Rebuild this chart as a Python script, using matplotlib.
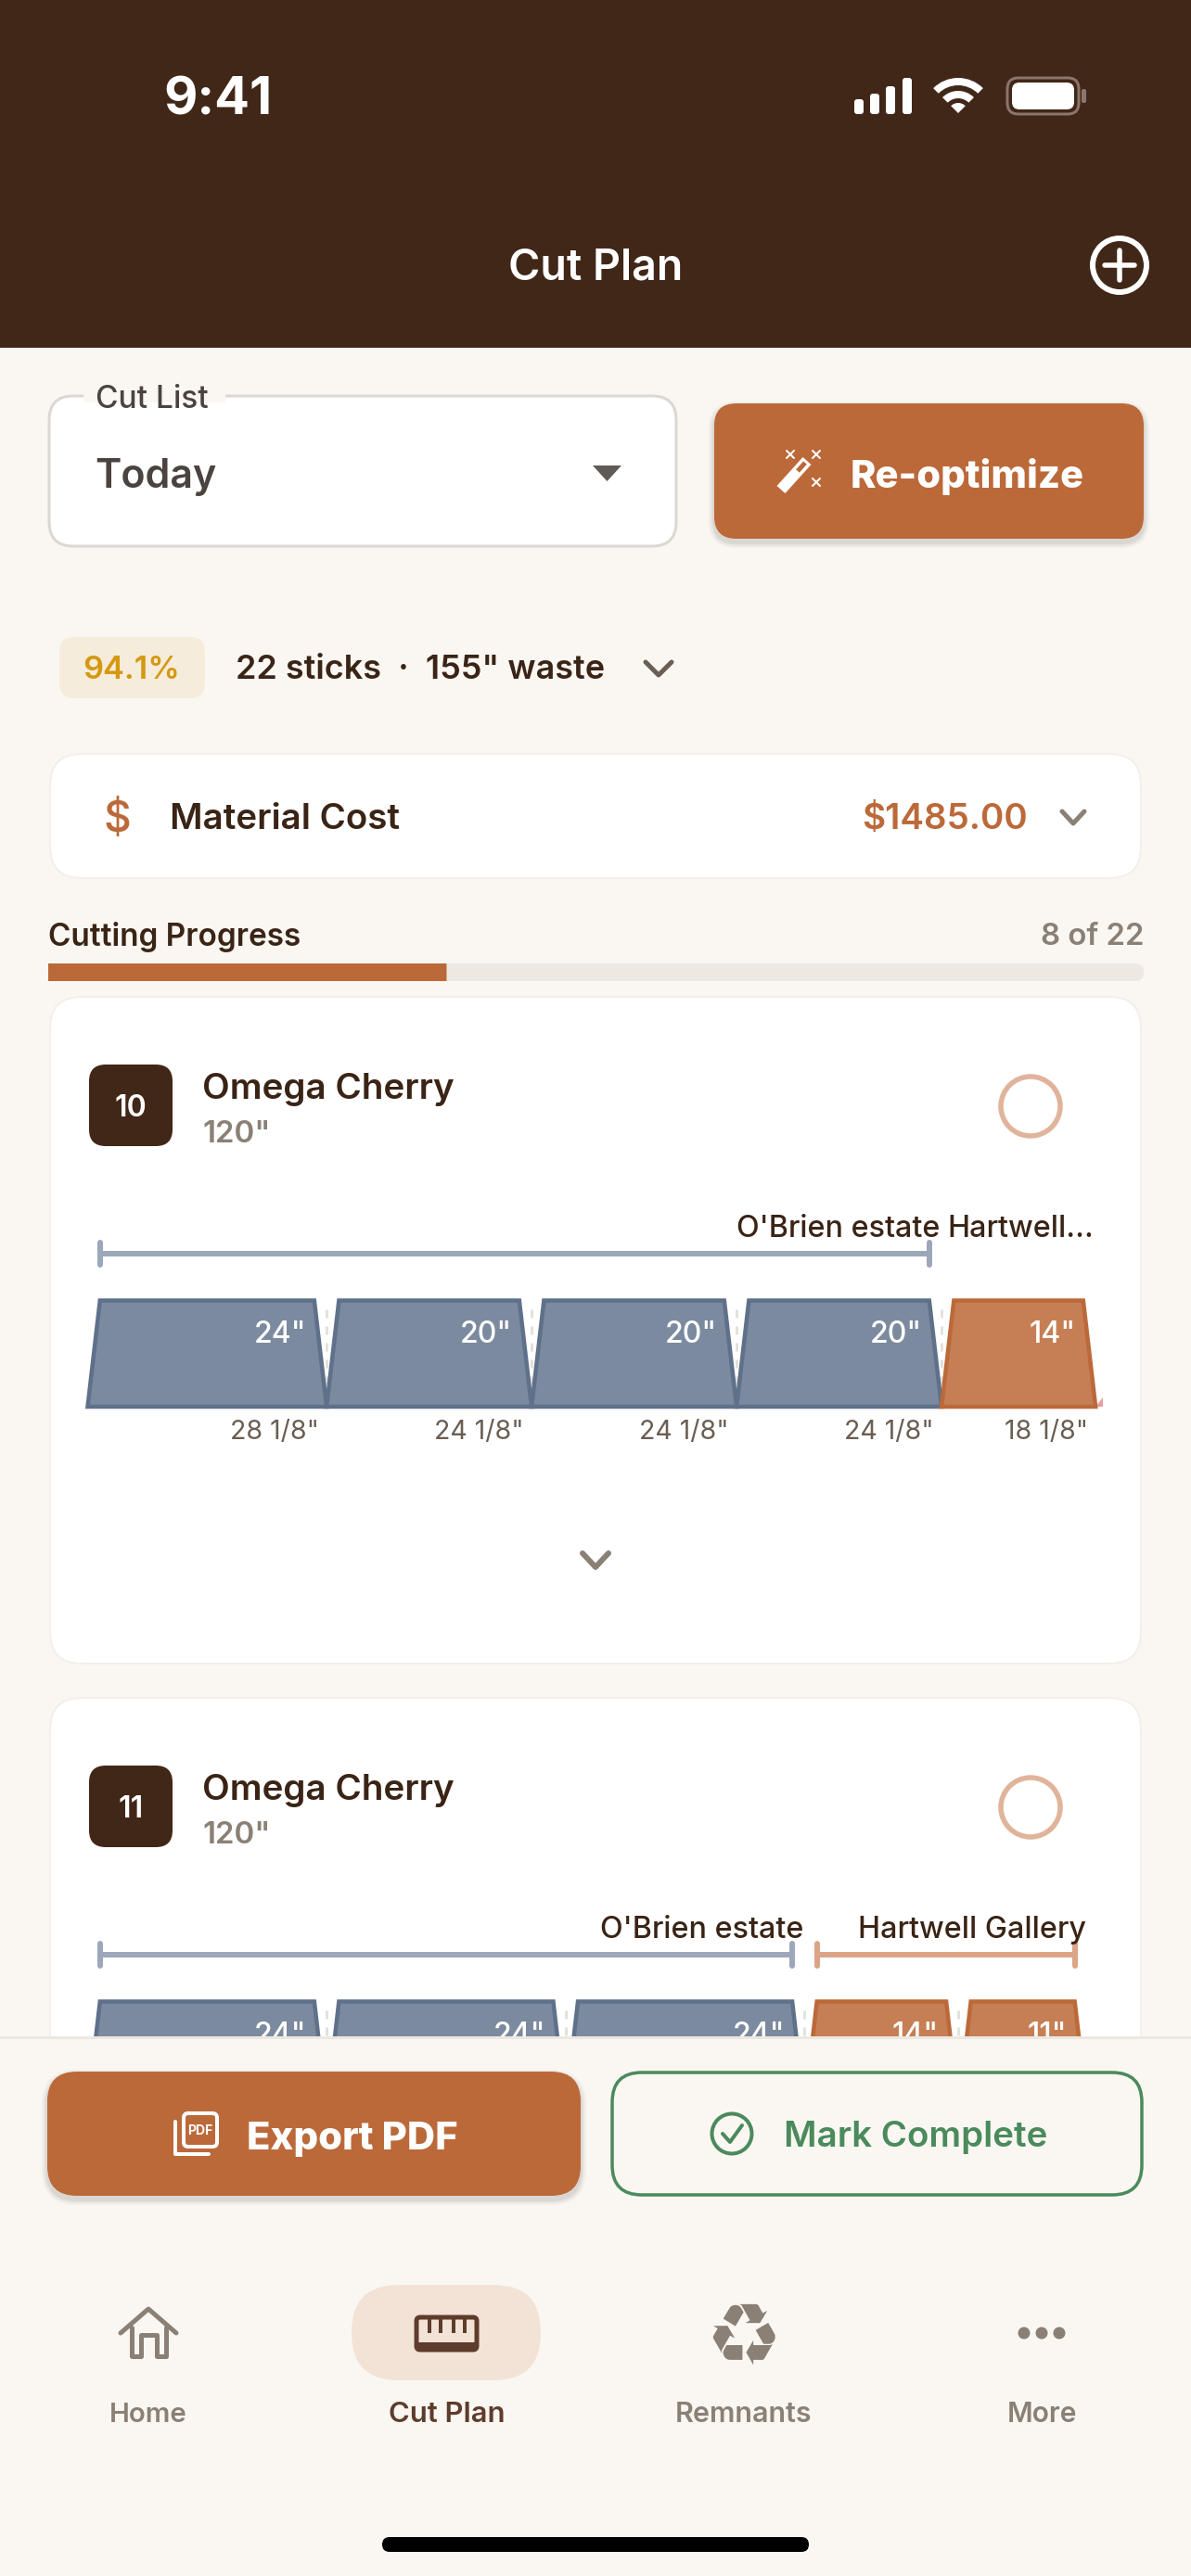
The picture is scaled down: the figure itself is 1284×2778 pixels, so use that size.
import matplotlib
matplotlib.use("Agg")
import matplotlib.pyplot as plt
from matplotlib.patches import FancyBboxPatch, Circle, Polygon, Wedge, Rectangle

plt.rcParams['font.family'] = ['Inter', 'DejaVu Sans']

# colours
BROWN = "#412718"
BG = "#faf7f2"
ORANGE = "#bc693a"
ORANGE_FILL = "#c67f54"
ORANGE_LINE = "#dba486"
SLATE = "#7b8a9e"
SLATE_EDGE = "#5f708a"
SLATE_LINE = "#9ca8ba"
GREEN = "#4a8a5c"
GREY = "#8a8075"
DARK = "#3a2416"

# stick data, the second stick's span labels are hidden behind the footer
stick_length = 120
stick_numbers = ["10", "11"]
stick_names = ["Omega Cherry", "Omega Cherry"]
stick_sizes = ['120"', '120"']
cuts = [[24, 20, 20, 20, 14], [24, 24, 24, 14, 11]]
spans = [[28.125, 24.125, 24.125, 24.125, 18.125], [28.125, 28.125, 28.125, 18.125, 15.125]]
span_labels = [['28 1/8"', '24 1/8"', '24 1/8"', '24 1/8"', '18 1/8"'], []]
group_names = [["O'Brien estate", "Hartwell..."], ["O'Brien estate", "Hartwell Gallery"]]
group_counts = [[4, 1], [3, 2]]
group_brackets = [[True, False], [True, True]]
waste = [0.9, 0]

# summary data
yield_pct = "94.1%"
summary = '22 sticks  ·  155" waste'
material_cost = "$1485.00"
sticks_done = 8
sticks_total = 22
nav_labels = ["Home", "Cut Plan", "Remnants", "More"]
nav_centers = [160, 482, 802, 1123]
nav_sizes = [29.5, 31, 30.5, 30]

W, H = 1284, 2778
PT = 0.72  # px to pt at dpi 100

fig = plt.figure(figsize=(W / 100, H / 100), dpi=100, facecolor=BG)


def px_axes(zorder):
    a = fig.add_axes([0, 0, 1, 1], zorder=zorder)
    a.set_xlim(0, W)
    a.set_ylim(H, 0)
    a.axis('off')
    a.patch.set_alpha(0)
    return a


def rbox(a, x0, y0, x1, y1, r, fc, ec='none', lw=0, **kw):
    p = FancyBboxPatch((x0, y0), x1 - x0, y1 - y0, boxstyle=f"round,pad=0,rounding_size={r}",
                       fc=fc, ec=ec, lw=lw * PT, **kw)
    a.add_patch(p)
    return p


def txt(a, x, y, s, size, color, weight='normal', ha='left', **kw):
    return a.text(x, y, s, fontsize=size * PT, color=color, fontweight=weight, ha=ha, va='center_baseline', **kw)


def line(a, xs, ys, color, lw, cap='round', **kw):
    a.plot(xs, ys, color=color, lw=lw * PT, solid_capstyle=cap, solid_joinstyle='round', **kw)


def shadow(a, x0, y0, x1, y1, r):
    for grow, al in [(6, 0.03), (4, 0.04), (2, 0.06)]:
        rbox(a, x0 - grow, y0 + 4 - grow, x1 + grow, y1 + 4 + grow, r + grow, 'black', alpha=al)


ax = px_axes(0)

# header
ax.add_patch(Rectangle((0, 0), W, 375, fc=BROWN, ec='none'))
txt(ax, 235, 103, "9:41", 56, 'white', 'bold', ha='center')
for x0, x1, top in [(921, 931, 107), (938, 948, 101), (955, 965, 93), (973, 983, 84)]:
    rbox(ax, x0, top, x1, 123, 3, 'white')
for r, w in [(38, 8), (24, 8)]:
    ax.add_patch(Wedge((1033, 122), r, 225, 315, width=w, fc='white', ec='none'))
ax.add_patch(Wedge((1033, 122), 11, 225, 315, fc='white', ec='none'))
rbox(ax, 1086, 84, 1163, 123, 12, 'none', ec='#8a766b', lw=3)
rbox(ax, 1091, 89, 1158, 118, 8, 'white')
rbox(ax, 1166, 96, 1171, 111, 2, '#8a766b')
txt(ax, 642, 285, "Cut Plan", 46.5, 'white', 'semibold', ha='center')
ax.add_patch(Circle((1207, 286), 29, fc='none', ec='white', lw=6 * PT))
line(ax, [1191, 1223], [286, 286], 'white', 5.5)
line(ax, [1207, 1207], [270, 302], 'white', 5.5)

# cut list dropdown
rbox(ax, 53, 427, 729, 589, 26, 'white', ec='#dcd7d2', lw=3)
ax.add_patch(Rectangle((90, 420), 153, 14, fc=BG, ec='none'))
txt(ax, 103, 427, "Cut List", 33.5, '#4a4340', 'medium')
txt(ax, 102, 510, "Today", 43, '#4a4340', 'semibold')
ax.add_patch(Polygon([(639, 502), (670, 502), (654.5, 519)], fc='#5f5a56', ec='none'))

# re-optimize button
shadow(ax, 770, 435, 1233, 581, 24)
rbox(ax, 770, 435, 1233, 581, 24, ORANGE)
line(ax, [842, 870], [528, 497], 'white', 12, cap='butt')
line(ax, [860, 868], [508, 499], ORANGE, 5, cap='butt')
for sx, sy in [(852, 490), (880, 490), (880, 520)]:
    line(ax, [sx - 4, sx + 4], [sy - 4, sy + 4], 'white', 2)
    line(ax, [sx - 4, sx + 4], [sy + 4, sy - 4], 'white', 2)
txt(ax, 917, 510, "Re-optimize", 41.6, 'white', 800)

# summary row
rbox(ax, 64, 687, 221, 753, 16, '#f6ecdc')
txt(ax, 142, 719, yield_pct, 34.5, '#d4990f', 'semibold', ha='center')
txt(ax, 254, 719, summary, 36, DARK, 'semibold')
line(ax, [696, 710, 724], [714, 728, 714], '#6a5f55', 5)

# material cost card
rbox(ax, 54, 813, 1230, 947, 34, 'white', ec='#f3efea', lw=2)
txt(ax, 126, 880, "$", 46, ORANGE, 'medium', ha='center')
txt(ax, 183, 880, "Material Cost", 38.5, DARK, 'semibold')
txt(ax, 1108, 880, material_cost, 38.5, ORANGE, 'semibold', ha='right')
line(ax, [1145, 1157, 1169], [875, 888, 875], GREY, 5)

# progress
txt(ax, 52, 1007, "Cutting Progress", 33.3, DARK, 'semibold')
txt(ax, 1233, 1007, f"{sticks_done} of {sticks_total}", 33, GREY, 'semibold', ha='right')
rbox(ax, 52, 1039, 1233, 1058, 9, '#ede8e2')
rbox(ax, 52, 1039, 52 + 1181 * sticks_done / sticks_total, 1058, 0, ORANGE)

# cards
BEVEL = 1.45  # inches of saw angle on each side
PX_PER_IN = 9.16
STICK_X = 94.5
for k, top in enumerate([0, 756]):
    rbox(ax, 54, 1075 + top, 1230, 1794 + top, 34, 'white', ec='#f3efea', lw=2)
    rbox(ax, 96, 1148 + top, 186, 1236 + top, 18, BROWN)
    txt(ax, 141, 1192 + top, stick_numbers[k], 32, 'white', 'semibold', ha='center')
    txt(ax, 218, 1171 + top, stick_names[k], 38.6, DARK, 'semibold')
    txt(ax, 218, 1220 + top, stick_sizes[k], 33, GREY, 'semibold')
    ax.add_patch(Circle((1111, 1193 + top), 32, fc='none', ec='#e0b49b', lw=5.5 * PT))
    line(ax, [628, 642, 656], [1675 + top, 1690 + top, 1675 + top], GREY, 6)

    # one axes per stick, x axis in inches
    sa = fig.add_axes([STICK_X / W, 1 - (1517 + top) / H, stick_length * PX_PER_IN / W, 114.5 / H], zorder=1)
    sa.set_xlim(0, stick_length)
    sa.set_ylim(0, 1)
    sa.axis('off')
    sa.patch.set_alpha(0)

    pos = 0
    starts = []
    for i, (cut, span) in enumerate(zip(cuts[k], spans[k])):
        starts.append(pos)
        orange = i >= group_counts[k][0]
        fc, ec = (ORANGE_FILL, ORANGE) if orange else (SLATE, SLATE_EDGE)
        if i > 0:
            sa.plot([pos, pos], [0.05, 1], color='#e4e1dd', lw=3 * PT, ls=(0, (3, 3)), clip_on=False, zorder=1)
        sa.add_patch(Polygon([(pos, 0), (pos + BEVEL, 1), (pos + span - BEVEL, 1), (pos + span, 0)],
                             closed=True, fc=fc, ec=ec, lw=4.5 * PT, joinstyle='miter', zorder=2, clip_on=False))
        sa.text(pos + span - BEVEL - 0.9, 0.707, f'{cut}"', fontsize=32 * PT, color='white', fontweight='medium',
                ha='right', va='center_baseline', zorder=3, clip_on=False)
        if span_labels[k]:
            sa.text(pos + span - 0.9, -0.214, span_labels[k][i], fontsize=28.6 * PT, color='#6b5d52',
                    ha='right', va='center_baseline', zorder=3, clip_on=False)
        pos += span
    if waste[k]:
        sa.add_patch(Polygon([(pos, 0), (pos + waste[k], 0), (pos + waste[k], 0.09)], fc='#e8a0a0', ec='none',
                             zorder=1, clip_on=False))

    first = 0
    for name, count, show, in zip(group_names[k], group_counts[k], group_brackets[k]):
        last = first + count - 1
        x0 = starts[first] + BEVEL
        x1 = starts[last] + spans[k][last] - BEVEL
        col = SLATE_LINE if first == 0 else ORANGE_LINE
        if show:
            sa.plot([x0, x1], [1.444, 1.444], color=col, lw=6 * PT, solid_capstyle='butt', clip_on=False)
            for xt in (x0, x1):
                sa.plot([xt, xt], [1.339, 1.549], color=col, lw=6 * PT, solid_capstyle='round', clip_on=False)
        sa.text(x1 + 1.3, 1.706, name, fontsize=32.3 * PT, color=DARK, fontweight='medium',
                ha='right', va='center_baseline', clip_on=False)
        first += count

# footer sits over the scrolling cards
fx = px_axes(2)
fx.add_patch(Rectangle((0, 2196), W, H - 2196, fc=BG, ec='none'))
fx.add_patch(Rectangle((0, 2196), W, 3, fc='#ece7e0', ec='none'))

shadow(fx, 51, 2234, 626, 2368, 32)
rbox(fx, 51, 2234, 626, 2368, 32, ORANGE)
rbox(fx, 198, 2279, 234, 2315, 5, 'none', ec='white', lw=4)
line(fx, [189, 189, 225], [2288, 2323, 2323], 'white', 4)
txt(fx, 216, 2297, "PDF", 14, 'white', 'bold', ha='center')
txt(fx, 266, 2303, "Export PDF", 41.8, 'white', 800)

rbox(fx, 660, 2235, 1231, 2367, 32, 'none', ec=GREEN, lw=3.5)
fx.add_patch(Circle((789, 2301), 21.5, fc='none', ec=GREEN, lw=4 * PT))
line(fx, [779, 787, 800], [2301, 2310, 2292], GREEN, 4)
txt(fx, 845, 2301, "Mark Complete", 38.5, GREEN, 'semibold')

# tab bar
rbox(fx, 379, 2464, 583, 2567, 51, '#f3e3d7')
# home
line(fx, [130, 160, 190], [2516, 2490, 2516], GREY, 5)
line(fx, [142, 142, 152, 152, 169, 169, 179, 179], [2510, 2541, 2541, 2518, 2518, 2541, 2541, 2510], GREY, 5)
# ruler
rbox(fx, 449, 2499, 514, 2534, 4, 'none', ec='#5e3c2c', lw=5)
fx.add_patch(Rectangle((449, 2526), 65, 8, fc='#5e3c2c', ec='none'))
for xt in [463, 475, 489, 501]:
    line(fx, [xt, xt], [2499, 2516], '#5e3c2c', 4, cap='butt')
# recycle, more
fx.text(802, 2524, "♻", fontsize=92 * PT, color=GREY, family='DejaVu Sans', ha='center', va='center')
for xd in [1104, 1123, 1142]:
    fx.add_patch(Circle((xd, 2516), 6.5, fc=GREY, ec='none'))
for i, (label, xc) in enumerate(zip(nav_labels, nav_centers)):
    active = i == 1
    txt(fx, xc, 2601, label, nav_sizes[i], '#5e3c2c' if active else GREY, 'semibold', ha='center')

rbox(fx, 412, 2736, 872, 2752, 8, 'black')

fig.savefig("out.png", dpi=100, facecolor=BG)
